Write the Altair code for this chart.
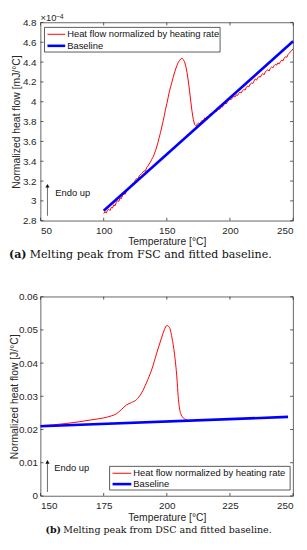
import altair as alt
import pandas as pd

SERIES = ["Heat flow normalized by heating rate", "Baseline"]
COLORS = ["#ff0000", "#0000ff"]

# ---- (a) FSC: heat flow in units of 1e-4 mJ/°C ----
fsc_temp = [100, 101, 102, 103, 104, 105, 106, 107, 108, 109,
            110, 111, 112, 113, 114, 115, 116, 117, 118, 119,
            120, 121, 122, 123, 124, 125, 126, 127, 128, 129,
            130, 131, 132, 133, 134, 135, 136, 137, 138, 139,
            140, 141, 142, 143, 144, 145, 146, 147, 148, 149,
            150, 151, 152, 153, 154, 155, 156, 157, 158, 159,
            160, 161, 162, 163, 164, 165, 166, 167, 168, 169,
            170, 171, 172, 173, 174, 175, 176, 177, 178, 179,
            180, 181, 182, 183, 184, 185, 186, 187, 188, 189,
            190, 191, 192, 193, 194, 195, 196, 197, 198, 199,
            200, 201, 202, 203, 204, 205, 206, 207, 208, 209,
            210, 211, 212, 213, 214, 215, 216, 217, 218, 219,
            220, 221, 222, 223, 224, 225, 226, 227, 228, 229,
            230, 231, 232, 233, 234, 235, 236, 237, 238, 239,
            240, 241, 242, 243, 244, 245, 246, 247, 248, 249, 250]
fsc_flow = [2.872, 2.890, 2.878, 2.905, 2.915, 2.902, 2.935, 2.928, 2.962, 2.950,
            2.985, 3.002, 2.995, 3.030, 3.022, 3.058, 3.075, 3.066, 3.098, 3.115,
            3.140, 3.132, 3.165, 3.178, 3.170, 3.208, 3.225, 3.215, 3.250, 3.262,
            3.275, 3.290, 3.305, 3.298, 3.335, 3.350, 3.372, 3.390, 3.418, 3.440,
            3.470, 3.505, 3.545, 3.590, 3.640, 3.690, 3.745, 3.800, 3.860, 3.925,
            3.980, 4.040, 4.100, 4.150, 4.195, 4.245, 4.290, 4.330, 4.365, 4.395,
            4.415, 4.432, 4.440, 4.425, 4.405, 4.360, 4.295, 4.210, 4.110, 4.000,
            3.900, 3.820, 3.772, 3.758, 3.768, 3.785, 3.776, 3.800, 3.812, 3.805,
            3.838, 3.830, 3.852, 3.845, 3.872, 3.880, 3.868, 3.895, 3.905, 3.898,
            3.915, 3.932, 3.925, 3.952, 3.945, 3.970, 3.985, 3.978, 4.000, 4.012,
            4.030, 4.022, 4.040, 4.055, 4.048, 4.070, 4.062, 4.085, 4.098, 4.090,
            4.112, 4.125, 4.118, 4.145, 4.160, 4.150, 4.178, 4.190, 4.182, 4.208,
            4.230, 4.218, 4.240, 4.255, 4.248, 4.270, 4.285, 4.272, 4.300, 4.315,
            4.322, 4.310, 4.338, 4.350, 4.342, 4.365, 4.378, 4.370, 4.392, 4.382,
            4.405, 4.420, 4.412, 4.440, 4.455, 4.448, 4.475, 4.490, 4.505, 4.520, 4.532]
fsc_base_temp = [100, 250]
fsc_base_flow = [2.90, 4.61]
fsc_x_ticks = [50, 100, 150, 200, 250]
fsc_y_ticks = [2.8, 3.0, 3.2, 3.4, 3.6, 3.8, 4.0, 4.2, 4.4, 4.6, 4.8]

# ---- (b) DSC: heat flow in J/°C ----
dsc_temp = [150, 155, 160, 165, 170, 175, 178, 180, 182, 184, 186, 188, 190, 192, 194,
            196, 198, 199, 200, 201, 202, 203, 204, 204.5, 205, 205.5, 206, 207, 208]
dsc_flow = [0.0212, 0.0214, 0.0218, 0.0223, 0.0229, 0.0235, 0.0241, 0.0247, 0.0260,
            0.0274, 0.0281, 0.0290, 0.0310, 0.0342, 0.0380, 0.0430, 0.0478, 0.0500,
            0.0513, 0.0508, 0.0478, 0.0430, 0.0355, 0.0300, 0.0265, 0.0248, 0.0240,
            0.0232, 0.0229]
dsc_base_temp = [150, 248]
dsc_base_flow = [0.0210, 0.0238]
dsc_x_ticks = [150, 175, 200, 225, 250]
dsc_y_ticks = [0, 0.01, 0.02, 0.03, 0.04, 0.05, 0.06]

SANS = "Liberation Sans"
SERIF = "DejaVu Serif"
INK = "#262626"


def one(text):
    return pd.DataFrame({"t": [text]})


def panel(temp, flow, btemp, bflow, xt, yt, yfmt, ytitle, title_x, ylab_pad,
          W, H, leg, endo, cap, interp, exponent=False):
    xscale = alt.Scale(domain=[xt[0], xt[-1]], nice=False)
    yscale = alt.Scale(domain=[yt[0], yt[-1]], nice=False)
    xaxis = alt.Axis(values=xt, format="d", title="Temperature [°C]", grid=False,
                     ticks=False, tickSize=0, domain=False, labelPadding=4.5,
                     labelFont=SANS, labelFontSize=10, labelColor=INK,
                     titleFont=SANS, titleFontSize=10.5, titleFontWeight="normal",
                     titleColor=INK, titlePadding=2)
    yaxis = alt.Axis(values=yt, format=yfmt, title=ytitle, grid=False,
                     ticks=False, tickSize=0, domain=False, labelPadding=ylab_pad,
                     labelFont=SANS, labelFontSize=10, labelColor=INK,
                     titleFont=SANS, titleFontSize=10.5, titleFontWeight="normal",
                     titleColor=INK, titleX=title_x, titleAngle=270,
                     titleBaseline="bottom", titleAlign="center")

    def X(field="T"):
        return alt.X(f"{field}:Q", scale=xscale, axis=xaxis)

    def Y(field="Q"):
        return alt.Y(f"{field}:Q", scale=yscale, axis=yaxis)

    red = alt.Chart(pd.DataFrame({"T": temp, "Q": flow})).mark_line(
        color=COLORS[0], strokeWidth=1.0, interpolate=interp).encode(x=X(), y=Y())
    blue = alt.Chart(pd.DataFrame({"T": btemp, "Q": bflow})).mark_line(
        color=COLORS[1], strokeWidth=2.6).encode(x=X(), y=Y())

    tl = 3
    xt_df = pd.DataFrame({"T": xt})
    yt_df = pd.DataFrame({"Q": yt})
    tick_style = dict(color="#333333", strokeWidth=0.8)
    ticks = [
        alt.Chart(xt_df).mark_rule(**tick_style).encode(
            x=X(), y=alt.value(H), y2=alt.value(H - tl)),
        alt.Chart(xt_df).mark_rule(**tick_style).encode(
            x=X(), y=alt.value(0), y2=alt.value(tl)),
        alt.Chart(yt_df).mark_rule(**tick_style).encode(
            y=Y(), x=alt.value(0), x2=alt.value(tl)),
        alt.Chart(yt_df).mark_rule(**tick_style).encode(
            y=Y(), x=alt.value(W), x2=alt.value(W - tl)),
    ]

    # legend box
    lx0, ly0, lx1, ly1, sx0, sx1, tx, rows = leg
    legend = [alt.Chart(one("box")).mark_rect(fill="white", stroke="#333333",
                                              strokeWidth=0.8).encode(
        x=alt.value(lx0), x2=alt.value(lx1), y=alt.value(ly0), y2=alt.value(ly1))]
    for i, name in enumerate(SERIES):
        legend.append(alt.Chart(one(name)).mark_rule(
            color=COLORS[i], strokeWidth=1.0 if i == 0 else 2.6).encode(
            x=alt.value(sx0), x2=alt.value(sx1), y=alt.value(rows[i])))
        legend.append(alt.Chart(one(name)).mark_text(
            align="left", baseline="middle", font=SANS, fontSize=9.5, color="#111111").encode(
            text="t:N", x=alt.value(tx), y=alt.value(rows[i])))

    # "Endo up" arrow
    ax, ay0, ay1, etx, ety = endo
    arrow = [
        alt.Chart(one("shaft")).mark_rule(color="#6e6e6e", strokeWidth=1).encode(
            x=alt.value(ax), y=alt.value(ay0), y2=alt.value(ay1 + 3)),
        alt.Chart(one("head")).mark_point(shape="triangle-up", filled=True,
                                          color="#111111", size=18, opacity=1).encode(
            x=alt.value(ax), y=alt.value(ay1 + 2.5)),
        alt.Chart(one("Endo up")).mark_text(align="left", baseline="middle", font=SANS,
                                            fontSize=9.5, color="#111111").encode(
            text="t:N", x=alt.value(etx), y=alt.value(ety)),
    ]

    # caption
    tag, rest, cx, cx2, cy, cfs = cap
    caption = [
        alt.Chart(one(tag)).mark_text(align="left", baseline="middle", font=SERIF,
                                      fontSize=cfs, fontWeight="bold", color="#111111").encode(
            text="t:N", x=alt.value(cx), y=alt.value(cy)),
        alt.Chart(one(rest)).mark_text(align="left", baseline="middle", font=SERIF,
                                       fontSize=cfs, color="#111111").encode(
            text="t:N", x=alt.value(cx2), y=alt.value(cy)),
    ]

    extra = []
    if exponent:
        extra = [
            alt.Chart(one("×10")).mark_text(align="left", baseline="middle", font=SANS,
                                            fontSize=9.5, color=INK).encode(
                text="t:N", x=alt.value(0), y=alt.value(-4.5)),
            alt.Chart(one("−4")).mark_text(align="left", baseline="middle", font=SANS,
                                           fontSize=7, color=INK).encode(
                text="t:N", x=alt.value(15.5), y=alt.value(-6)),
        ]

    return alt.layer(red, blue, *ticks, *legend, *arrow, *caption, *extra).properties(
        width=W, height=H)


top = panel(fsc_temp, fsc_flow, fsc_base_temp, fsc_base_flow,
            fsc_x_ticks, fsc_y_ticks, ".1~f", "Normalized heat flow [mJ/°C]",
            -19.5, 4.5, 256, 201,
            (4, 5, 182, 30, 7, 25, 27, (12, 23.7)),
            (7, 196, 163, 15, 173),
            ("(a)", "Melting peak from FSC and fitted baseline.", -32, -11, 236, 11.2),
            "linear", exponent=True)

bottom = panel(dsc_temp, dsc_flow, dsc_base_temp, dsc_base_flow,
               dsc_x_ticks, dsc_y_ticks, ".2~f", "Normalized heat flow [J/°C]",
               -21.5, 3, 256, 202,
               (70, 172, 253, 196, 73, 92, 94, (179, 190)),
               (7, 198, 165, 14, 174),
               ("(b)", "Melting peak from DSC and fitted baseline.", 5, 23, 237, 9.6),
               "monotone")

chart = alt.vconcat(top, bottom, spacing=77, bounds="flush").properties(
    padding=0).configure_view(stroke="#404040", strokeWidth=0.8)

chart.save("out.html", embed_options={"renderer": "svg", "actions": False})
